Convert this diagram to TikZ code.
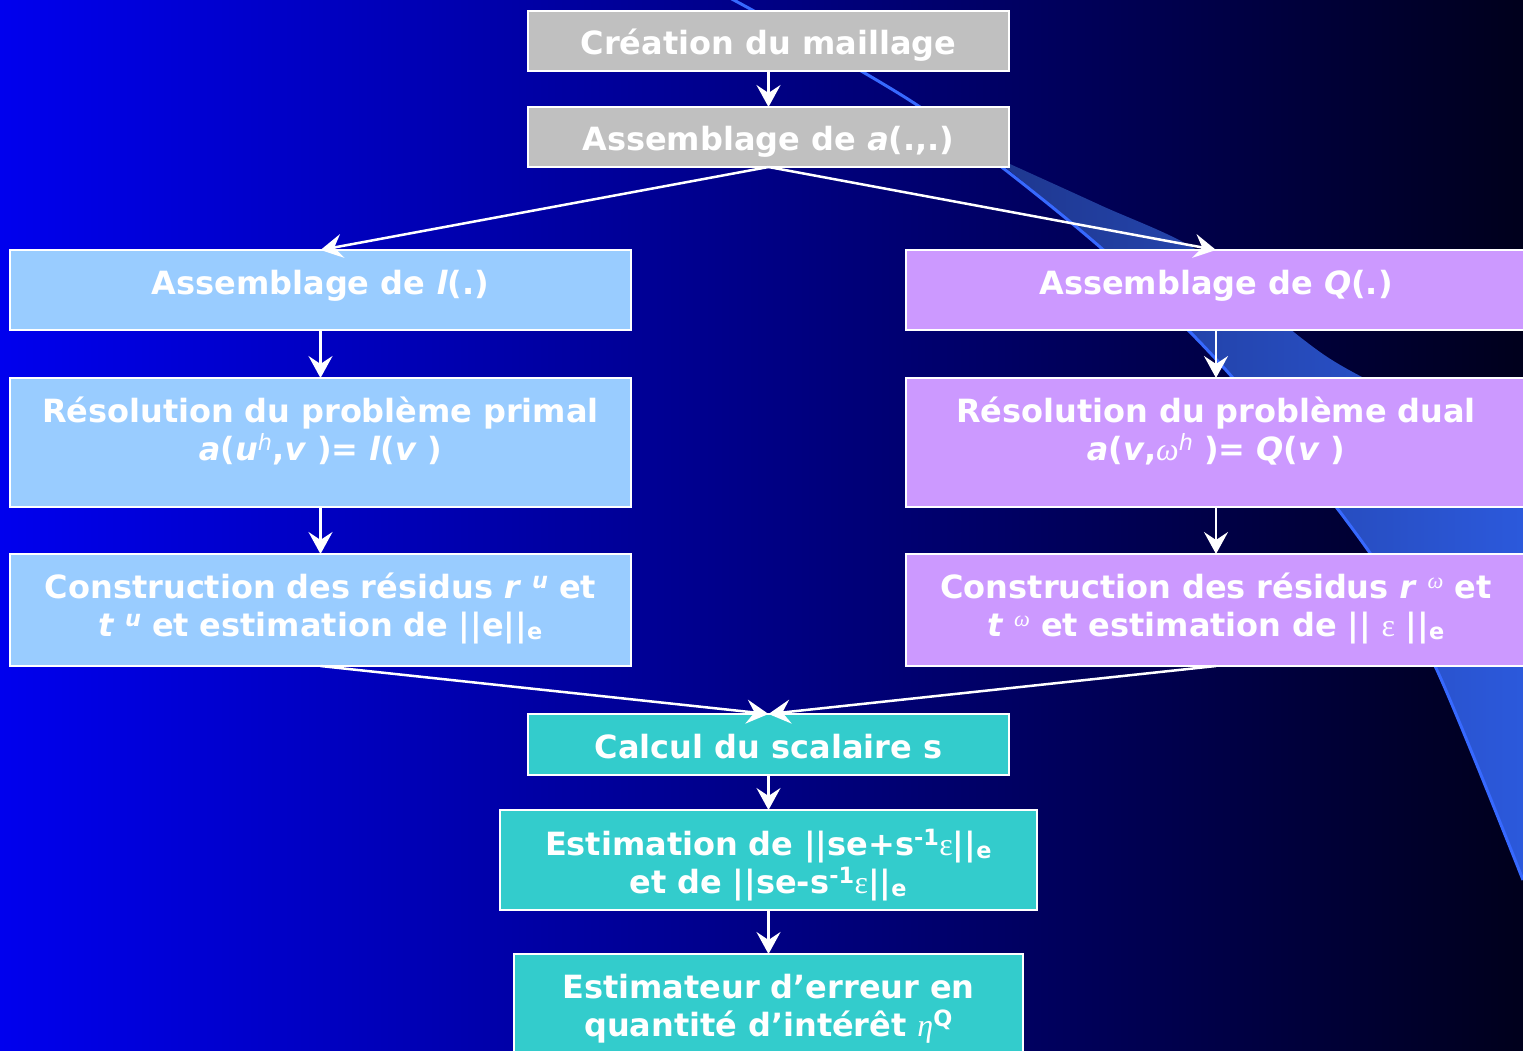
\documentclass[tikz,border=0pt]{standalone}
\usepackage{fontspec}
\setmainfont{DejaVu Sans}
\newfontfamily\greekser{Liberation Serif}
\usetikzlibrary{arrows.meta}
\definecolor{bgL}{RGB}{0,0,238}
\definecolor{bgM}{RGB}{0,0,165}
\definecolor{bgR}{RGB}{0,0,28}
\definecolor{bandL}{RGB}{30,54,140}
\definecolor{bandR}{RGB}{44,90,222}
\definecolor{bandEdge}{RGB}{55,105,255}
\definecolor{boxGray}{RGB}{192,192,192}
\definecolor{boxBlue}{RGB}{153,204,255}
\definecolor{boxPurple}{RGB}{204,153,255}
\definecolor{boxTeal}{RGB}{51,204,204}
\newcommand{\gom}{{\greekser\mdseries\itshape ω}}
\newcommand{\geta}{{\greekser\mdseries\itshape η}}
\newcommand{\geps}{{\greekser\mdseries\upshape ε}}
\begin{document}
\begin{tikzpicture}[x=1pt,y=-1pt,
  box/.style={draw=white, line width=2.5pt, inner sep=0pt, outer sep=0pt},
  txt/.style={text=white, font=\bfseries\fontsize{32}{38}\selectfont, inner sep=0pt, align=center, anchor=base},
  arr/.style={draw=white, line width=2.5pt, -{Stealth[length=22pt,width=24pt,inset=8pt]}}]
\useasboundingbox (0,0) rectangle (1523,1051);
% background
\shade[left color=bgL, middle color=bgM, right color=bgR] (0,0) rectangle (1523,1051);
% decorative band
\begin{scope}
\clip (990,155) -- plot[smooth] coordinates {(990,155) (1100,247) (1233,378) (1370,553) (1436,668) (1523,880)}
  -- (1540,880) -- (1540,455) -- plot[smooth] coordinates {(1523,455) (1362,377) (1300,337) (1200,252) (1100,205) (990,155)} -- cycle;
\shade[left color=bandL, right color=bandR] (980,150) rectangle (1540,900);
\end{scope}
\draw[bandEdge, line width=3pt] plot[smooth] coordinates {(730,-2) (920,107) (1100,247) (1233,378) (1370,553) (1436,668) (1523,880)};
% boxes
\node[box, fill=boxGray, minimum width=481pt, minimum height=60pt] (creation) at (768.5,41) {};
\node[box, fill=boxGray, minimum width=481pt, minimum height=60pt] (assa) at (768.5,137) {};
\node[box, fill=boxBlue, minimum width=621pt, minimum height=80pt] (assl) at (320.5,290) {};
\node[box, fill=boxPurple, minimum width=620pt, minimum height=80pt] (assq) at (1216,290) {};
\node[box, fill=boxBlue, minimum width=621pt, minimum height=129pt] (resp) at (320.5,442.5) {};
\node[box, fill=boxPurple, minimum width=620pt, minimum height=129pt] (resd) at (1216,442.5) {};
\node[box, fill=boxBlue, minimum width=621pt, minimum height=112pt] (conp) at (320.5,610) {};
\node[box, fill=boxPurple, minimum width=620pt, minimum height=112pt] (cond) at (1216,610) {};
\node[box, fill=boxTeal, minimum width=481pt, minimum height=61pt] (calc) at (768.5,744.5) {};
\node[box, fill=boxTeal, minimum width=537pt, minimum height=100pt] (esti) at (768.5,860) {};
\node[box, fill=boxTeal, minimum width=509pt, minimum height=112pt] (estr) at (768.5,1010) {};
% texts
\node[txt] (tcreation) at (768.5,55) {Création du maillage};
\node[txt] (tassa) at (768.5,151) {Assemblage de \textit{a}(.,.)};
\node[txt] (tassl) at (320.5,294) {Assemblage de \textit{l}(.)};
\node[txt] (tassq) at (1216,294) {Assemblage de \textit{Q}(.)};
\node[txt, text width=610pt] (tresp) at (320.5,422) {Résolution du problème primal\\
  \textit{a}(\textit{u}\textsuperscript{\itshape\mdseries h},\textit{v} )= \textit{l}(\textit{v} )};
\node[txt, text width=610pt] (tresd) at (1216,422) {Résolution du problème dual\\
  \textit{a}(\textit{v},\gom\textsuperscript{\itshape\mdseries h} )= \textit{Q}(\textit{v} )};
\node[txt, text width=610pt] (tconp) at (320.5,598) {Construction des résidus \textit{r} \textsuperscript{\textit{u}} et\\
  \textit{t} \textsuperscript{\textit{u}} et estimation de ||e||\textsubscript{e}};
\node[txt, text width=610pt] (tcond) at (1216,598) {Construction des résidus \textit{r} \textsuperscript{\gom} et\\
  \textit{t} \textsuperscript{\gom} et estimation de || \geps\ ||\textsubscript{e}};
\node[txt] (tcalc) at (768.5,758) {Calcul du scalaire s};
\node[txt, text width=530pt] (testi) at (768.5,855) {Estimation de ||se+s\textsuperscript{-1}\geps||\textsubscript{e}\\
  et de ||se-s\textsuperscript{-1}\geps||\textsubscript{e}};
\node[txt, text width=500pt] (testr) at (768.5,998) {Estimateur d’erreur en\\
  quantité d’intérêt \geta\textsuperscript{Q}};
% connectors
\draw[arr] (creation.south) -- (assa.north);
\draw[arr] (assa.south) -- (assl.north);
\draw[arr] (assa.south) -- (assq.north);
\draw[arr] (assl.south) -- (resp.north);
\draw[arr] (resp.south) -- (conp.north);
\draw[arr] (assq.south) -- (resd.north);
\draw[arr] (resd.south) -- (cond.north);
\draw[arr] (conp.south) -- (calc.north);
\draw[arr] (cond.south) -- (calc.north);
\draw[arr] (calc.south) -- (esti.north);
\draw[arr] (esti.south) -- (estr.north);
\end{tikzpicture}
\end{document}
